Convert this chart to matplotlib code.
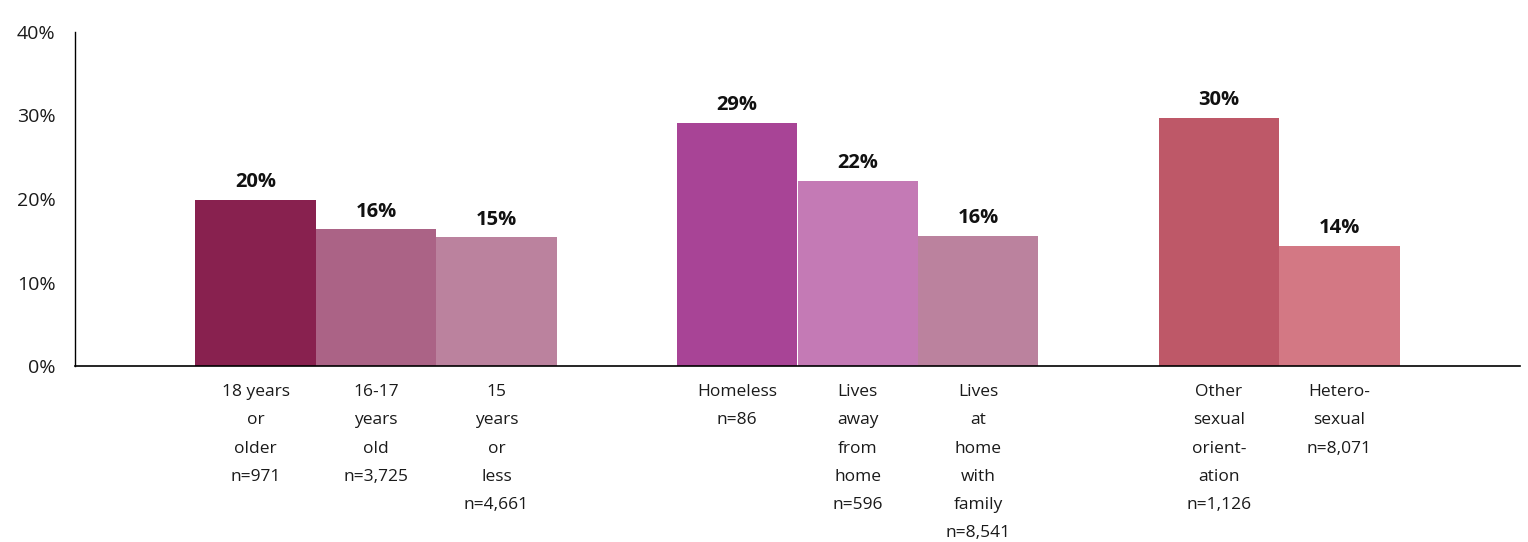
import matplotlib
matplotlib.use("Agg")
import matplotlib.pyplot as plt
from matplotlib.ticker import FuncFormatter

categories = ["18 years\nor\nolder\nn=971", "16-17\nyears\nold\nn=3,725", "15\nyears\nor\nless\nn=4,661",
              "Homeless\nn=86", "Lives\naway\nfrom\nhome\nn=596", "Lives\nat\nhome\nwith\nfamily\nn=8,541",
              "Other\nsexual\norient-\nation\nn=1,126", "Hetero-\nsexual\nn=8,071"]
values = [19.9, 16.4, 15.4, 29.1, 22.2, 15.6, 29.7, 14.4]
value_labels = ["20%", "16%", "15%", "29%", "22%", "16%", "30%", "14%"]
slots = [1.5, 2.5, 3.5, 5.5, 6.5, 7.5, 9.5, 10.5]
colors = ["#88214F", "#AB6386", "#BB829E", "#A84496", "#C47AB5", "#BB829E", "#BE5868", "#D37884"]
yticks = [0, 10, 20, 30, 40]

plt.rcParams['font.family'] = ['Open Sans', 'DejaVu Sans']
W, H = 1528, 542
fig = plt.figure(figsize=(W/100, H/100), dpi=100)
ax = fig.add_axes([75/W, (H-366)/H, (1520-75)/W, (366-32)/H])

ax.bar(slots, values, width=1.0, color=colors, edgecolor='none')
for x, v, lab in zip(slots, values, value_labels):
    ax.text(x, v + 0.9, lab, ha='center', va='bottom', fontsize=14.5, fontweight='bold', color='#111111')

ax.set_xlim(0, 12)
ax.set_ylim(0, 40)
ax.set_yticks(yticks)
ax.yaxis.set_major_formatter(FuncFormatter(lambda v, p: f"{int(v)}%"))
ax.set_xticks(slots)
ax.set_xticklabels(categories, fontsize=12.5, linespacing=2.02, va='top', color='#1a1a1a')
ax.tick_params(axis='x', length=0, pad=13)
ax.tick_params(axis='y', length=0, pad=14, labelsize=14, labelcolor='#1a1a1a')
for s in ['top', 'right']:
    ax.spines[s].set_visible(False)
ax.spines['left'].set_color('black')
ax.spines['bottom'].set_color('black')
ax.spines['left'].set_linewidth(1.0)
ax.spines['bottom'].set_linewidth(1.2)

fig.savefig("out.png", dpi=100)
